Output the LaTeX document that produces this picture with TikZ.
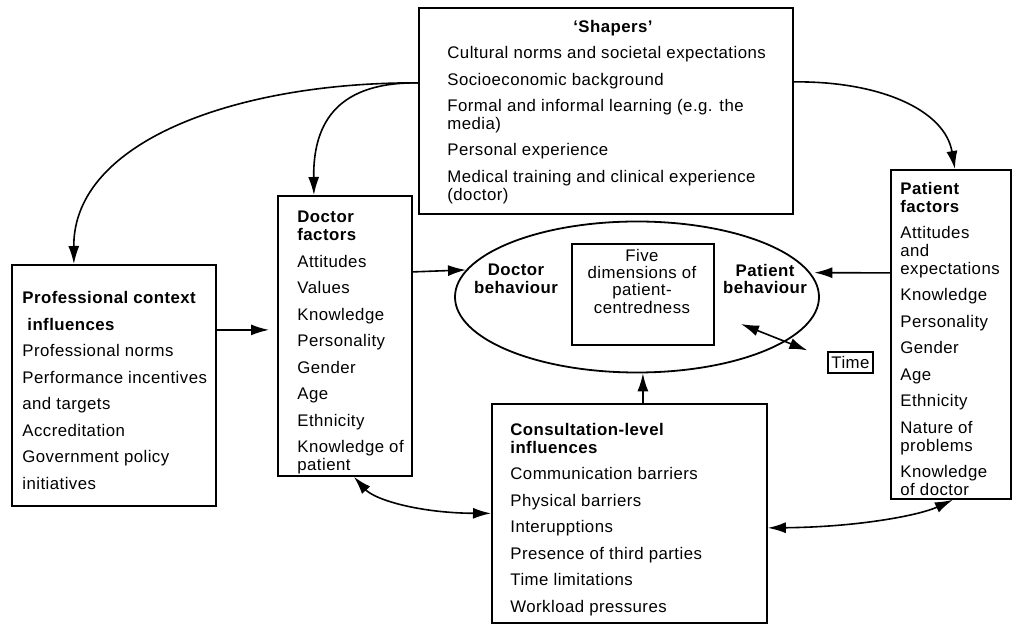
\documentclass[tikz,border=0pt]{standalone}
\usepackage{fontspec}
\setmainfont{Liberation Sans}[LetterSpace=2.7]
\usetikzlibrary{arrows.meta,shapes.geometric,calc}
\tikzset{
  box/.style={draw, line width=0.9pt, rectangle, inner sep=0pt, anchor=north west},
  txt/.style={inner sep=0pt, align=left, anchor=north west, font=\fontsize{8.4}{8.9}\selectfont},
  ctxt/.style={inner sep=0pt, align=center, anchor=north, font=\fontsize{8.4}{8.6}\selectfont},
  arr/.style={line width=0.8pt, -{Latex[length=9pt,width=5.5pt]}},
  dbl/.style={line width=0.8pt, {Latex[length=9pt,width=5.5pt]}-{Latex[length=9pt,width=5.5pt]}},
}
\newcommand{\gap}{\\[4.35pt]}
\begin{document}
\begin{tikzpicture}[x=0.5pt,y=-0.5pt]
\useasboundingbox (0,0) rectangle (1012,624);
% boxes
\node[box, minimum width=187pt, minimum height=103pt] (sh) at (418,7) {};
\node[box, minimum width=102pt, minimum height=120.5pt] (prof) at (11,264) {};
\node[box, minimum width=67pt, minimum height=140pt] (doc) at (277,195) {};
\node[box, minimum width=60pt, minimum height=164.5pt] (pat) at (890,169) {};
\node[box, minimum width=137.5pt, minimum height=109.5pt] (cons) at (491,403) {};
\node[draw, line width=0.9pt, ellipse, inner sep=0pt, minimum width=182pt, minimum height=75.5pt] (ell) at (637,297) {};
\node[box, minimum width=71pt, minimum height=50.5pt] (inner) at (571,243) {};
\node[draw, line width=0.6pt, inner sep=0pt, minimum width=22.5pt, minimum height=10.5pt, font=\fontsize{8.4}{8.6}\selectfont] (time) at (850.5,362.5) {Time};
% texts
\node[ctxt, font=\fontsize{8.4}{8.6}\selectfont\bfseries] (shT) at (613,20) {‘Shapers’};
\node[txt] (shI) at (447,46) {Cultural norms and societal expectations\gap
Socioeconomic background\gap
Formal and informal learning (e.g. the\\
media)\gap
Personal experience\gap
Medical training and clinical experience\\
(doctor)};
\node[txt] (docT) at (297,211) {\textbf{Doctor}\\
\textbf{factors}\gap
Attitudes\gap Values\gap Knowledge\gap Personality\gap Gender\gap Age\gap Ethnicity\gap
Knowledge of\\ patient};
\node[txt] (profT) at (22,291) {\textbf{Professional context}\gap
\hspace*{2.5pt}\textbf{influences}\gap
Professional norms\gap Performance incentives\gap and targets\gap Accreditation\gap
Government policy\gap initiatives};
\node[txt] (patT) at (900,182) {\textbf{Patient}\\
\textbf{factors}\gap
Attitudes\\ and\\ expectations\gap Knowledge\gap Personality\gap Gender\gap Age\gap
Ethnicity\gap Nature of\\ problems\gap Knowledge\\ of doctor};
\node[txt] (consT) at (510,423) {\textbf{Consultation-level}\\
\textbf{influences}\gap
Communication barriers\gap Physical barriers\gap Interupptions\gap
Presence of third parties\gap Time limitations\gap Workload pressures};
\node[ctxt, font=\fontsize{8.4}{8.6}\selectfont\bfseries] (dbT) at (516,264) {Doctor\\behaviour};
\node[ctxt, font=\fontsize{8.4}{8.6}\selectfont\bfseries] (pbT) at (765,264) {Patient\\behaviour};
\node[ctxt] (fiveT) at (642,249) {Five\\dimensions of\\patient-\\centredness};
% connectors
\draw[arr] ([yshift=14pt]sh.west) .. controls (240,82) and (73,140) .. ([xshift=-20pt]prof.north);
\draw[arr] ([yshift=14pt]sh.west) .. controls (340,82) and (313,120) .. ([xshift=-15.5pt]doc.north);
\draw[arr] ([yshift=14.5pt]sh.east) .. controls (880,81) and (945,110) .. ([xshift=2pt]pat.north);
\draw[arr, shorten >=4pt] ([yshift=27.75pt]prof.east) -- ([yshift=27.75pt]prof.east -| doc.west);
\draw[arr] ([yshift=32pt]doc.east) -- (ell.171.5);
\draw[arr, shorten >=2pt] ([yshift=30.75pt]pat.west) -- (ell.8.5);
\draw[arr] ([xshift=6.75pt]cons.north) coordinate (cn) -- (cn |- ell.south);
\draw[dbl] ([shift={(52pt,-13.5pt)}]ell.center) -- ([shift={(-10pt,0.5pt)}]time.north west);
\draw[dbl] ([xshift=4.5pt]doc.south) .. controls (375,500) and (420,513) .. (cons.west);
\draw[dbl] ([yshift=-7.25pt]cons.east) .. controls (860,527) and (920,515) .. ([xshift=1pt]pat.south);
\end{tikzpicture}
\end{document}
